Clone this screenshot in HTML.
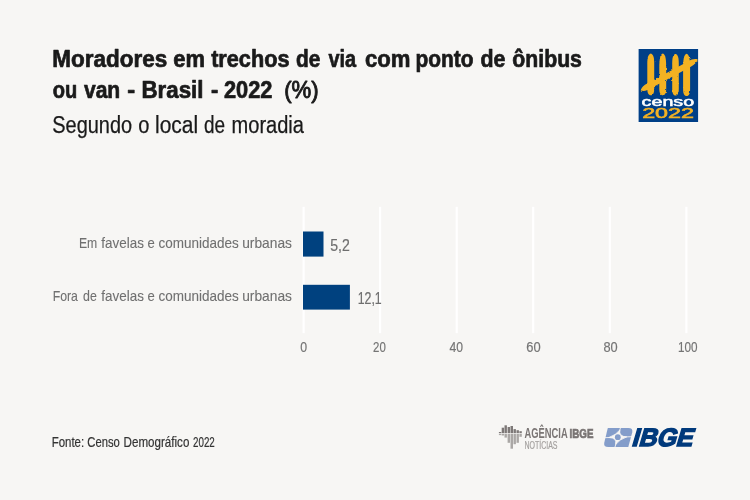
<!DOCTYPE html>
<html lang="pt-BR">
<head>
<meta charset="utf-8">
<title>Moradores em trechos de via com ponto de ônibus ou van - Brasil - 2022</title>
<style>
html,body{margin:0;padding:0;background:#f7f6f4;}
body{width:750px;height:500px;overflow:hidden;}
svg{display:block;}
text{font-family:"Liberation Sans",sans-serif;}
.t{font-weight:bold;fill:#1a1a1a;font-size:23.5px;stroke:#1a1a1a;stroke-width:.7px;stroke-linejoin:round;}
.p{fill:#1a1a1a;font-size:23.8px;stroke:#1a1a1a;stroke-width:.95px;stroke-linejoin:round;}
.s{fill:#1a1a1a;font-size:23px;stroke:#1a1a1a;stroke-width:.25px;}
.l{fill:#707070;font-size:14.8px;stroke:#707070;stroke-width:.1px;}
.v{fill:#6e6e6e;font-size:16.6px;stroke:#6e6e6e;stroke-width:.2px;}
.a{fill:#757575;font-size:15.5px;stroke:#757575;stroke-width:.2px;}
.f{fill:#333;font-size:14.3px;stroke:#333;stroke-width:.2px;}
.ag{fill:#7a7574;font-size:14px;font-weight:bold;}
.ib{fill:#7a7574;font-size:13.6px;font-weight:bold;stroke:#7a7574;stroke-width:.7px;}
.no{fill:#a5a2a0;font-size:10px;stroke:#a5a2a0;stroke-width:.2px;}
</style>
</head>
<body>
<svg width="750" height="500" viewBox="0 0 750 500">
<rect width="750" height="500" fill="#f7f6f4"/>
<!-- grid -->
<g stroke="#ffffff" stroke-width="2.2">
<line x1="303.6" y1="206.8" x2="303.6" y2="333.2"/>
<line x1="380.1" y1="206.8" x2="380.1" y2="333.2"/>
<line x1="456.7" y1="206.8" x2="456.7" y2="333.2"/>
<line x1="533.2" y1="206.8" x2="533.2" y2="333.2"/>
<line x1="609.8" y1="206.8" x2="609.8" y2="333.2"/>
<line x1="686.4" y1="206.8" x2="686.4" y2="333.2"/>
</g>
<!-- bars -->
<rect x="303" y="231.5" width="20.5" height="25.1" fill="#00417f"/>
<rect x="303" y="284.8" width="46.9" height="24.8" fill="#00417f"/>
<text y="67"><tspan class="t" x="52.27" textLength="114.87" lengthAdjust="spacingAndGlyphs">Moradores</tspan> <tspan class="t" x="173.22" textLength="31.71" lengthAdjust="spacingAndGlyphs">em</tspan> <tspan class="t" x="211.14" textLength="78.35" lengthAdjust="spacingAndGlyphs">trechos</tspan> <tspan class="t" x="296.02" textLength="24.36" lengthAdjust="spacingAndGlyphs">de</tspan> <tspan class="t" x="328.39" textLength="27.72" lengthAdjust="spacingAndGlyphs">via</tspan> <tspan class="t" x="364.96" textLength="45.50" lengthAdjust="spacingAndGlyphs">com</tspan> <tspan class="t" x="415.48" textLength="57.98" lengthAdjust="spacingAndGlyphs">ponto</tspan> <tspan class="t" x="480.48" textLength="24.91" lengthAdjust="spacingAndGlyphs">de</tspan> <tspan class="t" x="512.37" textLength="69.58" lengthAdjust="spacingAndGlyphs">ônibus</tspan></text>
<text y="98"><tspan class="t" x="52.65" textLength="24.49" lengthAdjust="spacingAndGlyphs">ou</tspan> <tspan class="t" x="83.93" textLength="36.33" lengthAdjust="spacingAndGlyphs">van</tspan> <tspan class="t" x="127.26" textLength="7.89" lengthAdjust="spacingAndGlyphs">-</tspan> <tspan class="t" x="141.48" textLength="62.02" lengthAdjust="spacingAndGlyphs">Brasil</tspan> <tspan class="t" x="210.94" textLength="7.27" lengthAdjust="spacingAndGlyphs">-</tspan> <tspan class="t" x="224.00" textLength="48.49" lengthAdjust="spacingAndGlyphs">2022</tspan> <tspan class="p" x="284.18" textLength="34.45" lengthAdjust="spacingAndGlyphs">(%)</tspan></text>
<text y="133"><tspan class="s" x="52.31" textLength="79.82" lengthAdjust="spacingAndGlyphs">Segundo</tspan> <tspan class="s" x="138.34" textLength="11.15" lengthAdjust="spacingAndGlyphs">o</tspan> <tspan class="s" x="154.99" textLength="43.12" lengthAdjust="spacingAndGlyphs">local</tspan> <tspan class="s" x="204.00" textLength="21.11" lengthAdjust="spacingAndGlyphs">de</tspan> <tspan class="s" x="231.53" textLength="72.47" lengthAdjust="spacingAndGlyphs">moradia</tspan></text>
<text y="248"><tspan class="l" x="78.90" textLength="18.30" lengthAdjust="spacingAndGlyphs">Em</tspan> <tspan class="l" x="101.37" textLength="42.51" lengthAdjust="spacingAndGlyphs">favelas</tspan> <tspan class="l" x="147.48" textLength="7.25" lengthAdjust="spacingAndGlyphs">e</tspan> <tspan class="l" x="158.47" textLength="80.27" lengthAdjust="spacingAndGlyphs">comunidades</tspan> <tspan class="l" x="242.22" textLength="49.73" lengthAdjust="spacingAndGlyphs">urbanas</tspan></text>
<text y="301"><tspan class="l" x="52.64" textLength="25.27" lengthAdjust="spacingAndGlyphs">Fora</tspan> <tspan class="l" x="83.04" textLength="13.76" lengthAdjust="spacingAndGlyphs">de</tspan> <tspan class="l" x="101.37" textLength="42.51" lengthAdjust="spacingAndGlyphs">favelas</tspan> <tspan class="l" x="147.48" textLength="7.25" lengthAdjust="spacingAndGlyphs">e</tspan> <tspan class="l" x="158.47" textLength="80.27" lengthAdjust="spacingAndGlyphs">comunidades</tspan> <tspan class="l" x="242.22" textLength="49.73" lengthAdjust="spacingAndGlyphs">urbanas</tspan></text>
<text y="251"><tspan class="v" x="330.16" textLength="19.56" lengthAdjust="spacingAndGlyphs">5,2</tspan></text>
<text y="304"><tspan class="v" x="357.67" textLength="24.04" lengthAdjust="spacingAndGlyphs">12,1</tspan></text>
<text y="352"><tspan class="a" x="300.16" textLength="6.85" lengthAdjust="spacingAndGlyphs">0</tspan> <tspan class="a" x="373.00" textLength="12.76" lengthAdjust="spacingAndGlyphs">20</tspan> <tspan class="a" x="449.56" textLength="13.51" lengthAdjust="spacingAndGlyphs">40</tspan> <tspan class="a" x="526.36" textLength="14.37" lengthAdjust="spacingAndGlyphs">60</tspan> <tspan class="a" x="603.48" textLength="14.24" lengthAdjust="spacingAndGlyphs">80</tspan> <tspan class="a" x="678.08" textLength="19.56" lengthAdjust="spacingAndGlyphs">100</tspan></text>
<text y="447"><tspan class="f" x="51.69" textLength="32.48" lengthAdjust="spacingAndGlyphs">Fonte:</tspan> <tspan class="f" x="87.29" textLength="32.51" lengthAdjust="spacingAndGlyphs">Censo</tspan> <tspan class="f" x="123.60" textLength="65.75" lengthAdjust="spacingAndGlyphs">Demográfico</tspan> <tspan class="f" x="193.00" textLength="21.80" lengthAdjust="spacingAndGlyphs">2022</tspan></text>
<text y="438"><tspan class="ag" x="524.58" textLength="43.15" lengthAdjust="spacingAndGlyphs">AGÊNCIA</tspan> <tspan class="ib" x="569.59" textLength="23.87" lengthAdjust="spacingAndGlyphs">IBGE</tspan></text>
<text y="449"><tspan class="no" x="524.48" textLength="33.07" lengthAdjust="spacingAndGlyphs">NOTÍCIAS</tspan></text>
<!-- Censo 2022 logo -->
<g>
<rect x="638" y="48.4" width="60.7" height="74.2" fill="#fbfaf8"/>
<rect x="638.6" y="49" width="59.5" height="73" fill="#003f87"/>
<filter id="rough" x="-10%" y="-10%" width="120%" height="120%"><feTurbulence type="fractalNoise" baseFrequency="0.35" numOctaves="2" seed="4" result="n"/><feDisplacementMap in="SourceGraphic" in2="n" scale="2.2" xChannelSelector="R" yChannelSelector="G"/></filter>
<g fill="#f4b223" filter="url(#rough)">
<path d="M650.8 53.5 C653.6 54.5 654.2 58.0 654.2 63.5 L654.2 88.3 C654.2 93.2 653.2 95.3 650.8 95.3 C648.4 95.3 647.3 93.2 647.3 88.3 L647.3 63.5 C647.3 58.0 648.0 54.5 650.8 53.5 Z"/>
<path d="M662.8 53.5 C665.6 54.5 666.2 59.8 666.2 67.5 L666.2 88.3 C666.2 93.2 665.2 95.3 662.8 95.3 C660.4 95.3 659.3 93.2 659.3 88.3 L659.3 67.5 C659.3 59.8 660.0 54.5 662.8 53.5 Z"/>
<path d="M675.5 53.7 C678.1 54.7 678.8 58.2 678.8 63.7 L678.8 88.5 C678.8 93.4 677.8 95.5 675.5 95.5 C673.2 95.5 672.2 93.4 672.2 88.5 L672.2 63.7 C672.2 58.2 672.9 54.7 675.5 53.7 Z"/>
<path d="M686.6 53.7 C689.4 54.7 690.1 60.0 690.1 67.7 L690.1 88.9 C690.1 93.8 689.0 95.9 686.6 95.9 C684.2 95.9 683.1 93.8 683.1 88.9 L683.1 67.7 C683.1 60.0 683.8 54.7 686.6 53.7 Z"/>
<path d="M640.7 90.5 C644.4 91.6 646.9 90.6 650.0 88.8 L691.2 66.4 C694.4 64.7 697.1 62.2 697.7 59.5 C695.1 58.5 691.5 59.4 688.4 61.2 L647.2 83.6 C644.0 85.3 641.8 86.8 640.7 90.5 Z"/>
</g>
<text x="641.6" y="105.9" textLength="52.6" lengthAdjust="spacingAndGlyphs" style="font-size:13.4px;fill:#ffffff;stroke:#ffffff;stroke-width:.55px">censo</text>
<text x="642.2" y="117.5" textLength="51.8" lengthAdjust="spacingAndGlyphs" style="font-size:14px;fill:#f4b223;stroke:#f4b223;stroke-width:.55px">2022</text>
</g>
<!-- Agência IBGE Notícias icon -->
<g>
<g fill="#7d7877">
<rect x="498.9" y="432" width="2.4" height="1.1"/>
<rect x="501.7" y="427.7" width="2.4" height="5.4"/>
<rect x="504.5" y="425.3" width="2.4" height="7.8"/>
<rect x="507.6" y="427" width="2.4" height="6.1"/>
<rect x="510.5" y="426" width="2.5" height="7.1"/>
<rect x="513.5" y="429.1" width="2.4" height="4"/>
<rect x="516.5" y="430.2" width="2.4" height="2.9"/>
<rect x="519.4" y="431.2" width="2.4" height="1.9"/>
</g>
<g fill="#aaa7a5">
<rect x="498.9" y="433.8" width="2.4" height="1.3"/>
<rect x="501.7" y="433.8" width="2.4" height="1.7"/>
<rect x="504.5" y="433.8" width="2.4" height="3.8"/>
<rect x="507.6" y="433.8" width="2.4" height="9"/>
<rect x="510.5" y="433.8" width="2.5" height="14.9"/>
<rect x="513.5" y="433.8" width="2.4" height="10.4"/>
<rect x="516.5" y="433.8" width="2.4" height="9"/>
<rect x="519.4" y="433.8" width="2.4" height="3"/>
</g>
</g>
<!-- IBGE logo -->
<g>
<path d="M607.8 428 L628.4 428 Q633.2 428 632.2 432.4 L628.3 446.9 L608.2 446.9 Q603.3 446.9 604.3 442.4 Z" fill="#849dca"/>
<path d="M603.61 437.72 L632.39 436.67 M620.53 427.58 L614.90 447.40" fill="none" stroke="#f7f6f4" stroke-width="0.9"/>
<path d="M608.81 437.53 Q616.06 434.98 619.85 429.99 Q618.56 436.60 626.79 436.87 Q619.54 439.42 615.75 444.41 Q617.04 437.80 608.81 437.53 Z" fill="#f7f6f4" stroke="#f7f6f4" stroke-width="0.8" stroke-linejoin="round"/>
<circle cx="617.8" cy="437.2" r="2.9" fill="#849dca"/>
<text x="0" y="0" transform="translate(631 445.85) skewX(-16.5)" textLength="61" lengthAdjust="spacingAndGlyphs" style="font-weight:bold;font-size:25px;fill:#003a7c;stroke:#003a7c;stroke-width:1.4px;stroke-linejoin:miter">IBGE</text>
</g>

</svg>
</body>
</html>
